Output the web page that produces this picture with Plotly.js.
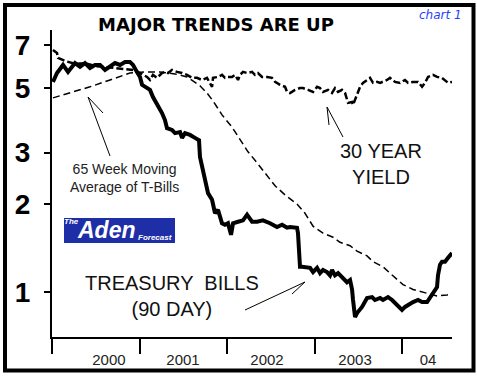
<!DOCTYPE html>
<html>
<head>
<meta charset="utf-8">
<script src="https://cdn.plot.ly/plotly-3.0.1.min.js"></script>
<style>html,body{margin:0;padding:0;background:#fff;}#chart{width:477px;height:377px;}</style>
</head>
<body>
<div id="chart"></div>
<script>
// Treasury bills (90 day) — thick solid line
const billDates = [2000.011,2000.057,2000.126,2000.183,2000.263,2000.320,2000.377,2000.434,2000.491,2000.549,2000.606,2000.663,2000.720,2000.777,2000.834,2000.891,2000.926,2000.971,2001.006,2001.029,2001.086,2001.120,2001.154,2001.211,2001.257,2001.291,2001.314,2001.371,2001.406,2001.463,2001.486,2001.520,2001.577,2001.634,2001.680,2001.691,2001.714,2001.749,2001.783,2001.829,2001.863,2001.897,2001.943,2001.977,2002.011,2002.046,2002.069,2002.126,2002.183,2002.229,2002.286,2002.343,2002.411,2002.491,2002.571,2002.629,2002.686,2002.720,2002.777,2002.800,2002.811,2002.834,2002.857,2002.949,2002.983,2003.029,2003.063,2003.097,2003.143,2003.177,2003.200,2003.234,2003.269,2003.314,2003.371,2003.406,2003.429,2003.440,2003.463,2003.486,2003.543,2003.600,2003.657,2003.691,2003.749,2003.783,2003.840,2003.886,2003.920,2003.954,2004.000,2004.034,2004.069,2004.126,2004.183,2004.229,2004.286,2004.320,2004.354,2004.400,2004.411,2004.434,2004.457,2004.491,2004.526,2004.549,2004.571];
const billValues = [5.24,5.62,5.99,5.67,6.08,5.90,6.08,5.85,5.99,5.99,5.76,5.90,6.08,5.99,6.13,6.13,5.99,5.67,5.45,5.12,4.99,4.92,4.65,4.37,4.10,3.88,3.64,3.59,3.50,3.53,3.37,3.50,3.45,3.37,3.31,2.90,2.68,2.42,2.18,2.07,1.86,1.91,1.72,1.70,1.72,1.57,1.72,1.74,1.76,1.84,1.74,1.74,1.76,1.72,1.67,1.70,1.66,1.67,1.66,1.66,1.59,1.22,1.22,1.21,1.17,1.21,1.16,1.19,1.17,1.14,1.19,1.14,1.16,1.12,1.08,1.10,1.02,0.939,0.821,0.847,0.889,0.954,0.961,0.939,0.954,0.939,0.961,0.939,0.917,0.889,0.868,0.889,0.903,0.924,0.939,0.924,0.924,0.954,0.992,1.04,1.14,1.24,1.27,1.27,1.31,1.34,1.36];

// 30 year yield — dashed line
const yieldDates = [2000.011,2000.057,2000.069,2000.149,2000.263,2000.377,2000.491,2000.606,2000.720,2000.834,2000.926,2001.006,2001.086,2001.120,2001.154,2001.200,2001.257,2001.291,2001.326,2001.371,2001.429,2001.486,2001.543,2001.600,2001.657,2001.714,2001.771,2001.829,2001.840,2001.897,2001.943,2001.977,2002.011,2002.057,2002.091,2002.126,2002.149,2002.183,2002.229,2002.286,2002.320,2002.354,2002.400,2002.457,2002.514,2002.549,2002.606,2002.663,2002.686,2002.720,2002.777,2002.834,2002.869,2002.926,2002.983,2003.029,2003.063,2003.097,2003.154,2003.200,2003.234,2003.269,2003.314,2003.349,2003.371,2003.383,2003.429,2003.440,2003.463,2003.497,2003.520,2003.554,2003.600,2003.634,2003.669,2003.714,2003.749,2003.783,2003.829,2003.863,2003.920,2003.977,2004.034,2004.069,2004.126,2004.183,2004.229,2004.263,2004.297,2004.354,2004.400,2004.457,2004.491,2004.526,2004.571];
const yieldValues = [6.74,6.58,6.33,6.18,6.04,6.08,5.94,5.90,5.85,5.80,5.76,5.62,5.45,5.32,5.54,5.41,5.62,5.67,5.62,5.76,5.67,5.62,5.54,5.41,5.41,5.32,5.41,5.04,5.41,5.45,5.54,5.41,5.45,5.45,5.54,5.32,5.54,5.67,5.62,5.67,5.54,5.62,5.45,5.45,5.41,5.24,5.12,5.04,4.84,4.80,4.92,4.99,4.99,4.92,4.84,5.04,4.99,4.84,4.92,4.80,4.99,4.84,4.92,4.80,4.55,4.44,4.47,4.37,4.55,4.80,5.04,5.20,5.32,5.41,5.20,5.24,5.20,5.24,5.32,5.41,5.24,5.20,5.32,5.20,5.24,5.24,5.04,5.20,5.45,5.54,5.45,5.41,5.32,5.20,5.24];

// 65 week moving average of T-bills — long dashes
const maDates = [2000.011,2000.206,2000.434,2000.663,2000.891,2001.063,2001.234,2001.406,2001.543,2001.691,2001.771,2001.840,2001.943,2002.057,2002.149,2002.240,2002.343,2002.434,2002.549,2002.663,2002.800,2002.891,2002.983,2003.097,2003.211,2003.291,2003.406,2003.486,2003.600,2003.669,2003.783,2003.863,2004.011,2004.126,2004.286,2004.400,2004.514,2004.571];
const maValues = [4.62,4.80,5.04,5.32,5.62,5.67,5.67,5.58,5.45,5.08,4.80,4.51,4.04,3.67,3.31,3.02,2.77,2.56,2.31,2.15,2.00,1.86,1.68,1.59,1.54,1.48,1.44,1.38,1.33,1.27,1.22,1.16,1.06,1.02,0.992,0.969,0.977,0.984];

// axis ticks and labels
const yearBoundaries = [2000, 2001, 2002, 2003, 2004];
const yearLabelPos = [2000.651, 2001.497, 2002.457, 2003.463, 2004.297];
const yearLabels = ['2000', '2001', '2002', '2003', '04'];
const yTicks = [1, 2, 3, 5, 7];
const yTickText = ['1', '2', '3', '5', '7'];

const xRange = [2000, 2004.571];

const traces = [
  {x: maDates, y: maValues, type: 'scatter', mode: 'lines', xaxis: 'x2', yaxis: 'y',
   line: {color: '#000', width: 1.5, dash: '7px,4px'}},
  {x: yieldDates, y: yieldValues, type: 'scatter', mode: 'lines',
   line: {color: '#000', width: 2.5, dash: '7px,3px'}},
  {x: billDates, y: billValues, type: 'scatter', mode: 'lines',
   line: {color: '#000', width: 4}}
];

function note(text, x, y, font) {
  return {text: text, xref: 'paper', yref: 'paper', x: x, y: y, xanchor: 'center', yanchor: 'middle',
          showarrow: false, font: font};
}

const layout = {
  width: 477, height: 377,
  margin: {l: 52, r: 25, t: 30, b: 40},
  paper_bgcolor: '#fff', plot_bgcolor: '#fff',
  showlegend: false, hovermode: false,
  title: {text: 'MAJOR TRENDS ARE UP', x: 216/477, xanchor: 'center', y: 1 - 25/377, yanchor: 'middle',
          font: {family: 'DejaVu Sans', size: 18, weight: 'bold', color: '#000'}},
  xaxis: {range: xRange, showline: true, linecolor: '#000', linewidth: 2,
          ticks: 'outside', ticklen: 15, tickwidth: 2, tickcolor: '#000',
          tickvals: yearBoundaries, showticklabels: false, showgrid: false, zeroline: false},
  xaxis2: {range: xRange, overlaying: 'x', side: 'bottom', showline: false, showgrid: false, zeroline: false,
           ticks: 'outside', ticklen: 9, tickcolor: 'rgba(0,0,0,0)',
           tickvals: yearLabelPos, ticktext: yearLabels,
           tickfont: {family: 'Liberation Sans', size: 15, color: '#222'}},
  yaxis: {type: 'log', range: [-0.154, 0.897], showline: true, linecolor: '#000', linewidth: 2,
          ticks: 'outside', ticklen: 6, tickwidth: 2, tickcolor: '#000',
          tickvals: yTicks, ticktext: yTickText, ticklabelstandoff: 8,
          tickfont: {family: 'Liberation Sans', size: 28, weight: 'bold', color: '#000'},
          showgrid: false, zeroline: false},
  shapes: [
    {type: 'rect', xref: 'paper', yref: 'paper', x0: -0.1175, x1: 1.05375, y0: -0.1091, y1: 1.0814,
     line: {color: '#000', width: 4}, fillcolor: 'rgba(0,0,0,0)'},
    {type: 'rect', xref: 'paper', yref: 'paper', x0: 0.03, x1: 0.3075, y0: 0.3062, y1: 0.3876,
     line: {width: 0}, fillcolor: '#1e2ea6', layer: 'below'},
    {type: 'path', xref: 'paper', yref: 'paper', path: 'M 0.145,0.5896 L 0.09,0.7818 L 0.1275,0.7296',
     line: {color: '#000', width: 1}},
    {type: 'path', xref: 'paper', yref: 'paper', path: 'M 0.7275,0.6515 L 0.6875,0.7492 L 0.6925,0.6906',
     line: {color: '#000', width: 1}},
    {type: 'path', xref: 'paper', yref: 'paper', path: 'M 0.4825,0.0879 L 0.6325,0.1792 L 0.6,0.1401',
     line: {color: '#000', width: 1}}
  ],
  annotations: [
    note('chart 1', 0.97, 1.049, {family: 'DejaVu Sans', size: 12, style: 'italic', color: '#1f3fff'}),
    note('65 Week Moving<br>Average of T-Bills', 0.181, 0.518, {family: 'Liberation Sans', size: 14, color: '#222'}),
    note('30 YEAR<br>YIELD', 0.8225, 0.565, {family: 'Liberation Sans', size: 20, color: '#111'}),
    note('TREASURY  BILLS<br>(90 DAY)', 0.301, 0.1336, {family: 'Liberation Sans', size: 20, color: '#111'}),
    note('Aden', 0.135, 0.3485, {family: 'Liberation Sans', size: 23, weight: 'bold', style: 'italic', color: '#fff'}),
    note('The', 0.049, 0.3746, {family: 'Liberation Sans', size: 8, weight: 'bold', style: 'italic', color: '#fff'}),
    note('Forecast', 0.2575, 0.3257, {family: 'Liberation Sans', size: 8, weight: 'bold', style: 'italic', color: '#fff'})
  ]
};

Plotly.newPlot('chart', traces, layout, {displayModeBar: false, staticPlot: true});
</script>
</body>
</html>
